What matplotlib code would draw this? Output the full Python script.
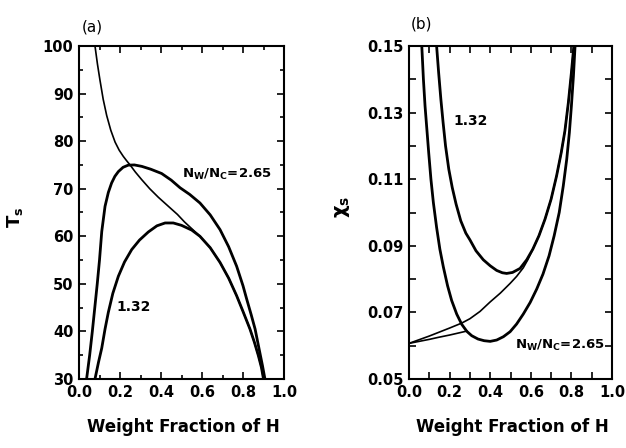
import matplotlib
matplotlib.use("Agg")
from matplotlib import pyplot as plt
from matplotlib.ticker import MultipleLocator, FixedLocator
import numpy as np

# (a) spinodal temperature vs weight fraction of H
A_W_265 = [0.037, 0.052, 0.065, 0.077, 0.089, 0.100, 0.111, 0.127, 0.143, 0.159, 0.175,
           0.192, 0.215, 0.24, 0.27, 0.306, 0.35, 0.403, 0.45, 0.493, 0.54, 0.59, 0.64,
           0.688, 0.73, 0.769, 0.80, 0.818, 0.84, 0.859, 0.88, 0.895, 0.907]
A_T_265 = [30, 35, 40, 45, 50, 55, 61, 66.3, 69.2, 71.2, 72.6,
           73.6, 74.5, 74.95, 75.0, 74.7, 74.1, 73.2, 71.8, 70.2, 68.8, 67.0, 64.5,
           61.4, 57.8, 53.7, 49.6, 46.8, 43.5, 40.5, 36.0, 32.8, 30.0]

A_W_132 = [0.078, 0.095, 0.111, 0.127, 0.143, 0.165, 0.192, 0.222, 0.257, 0.295, 0.338,
           0.38, 0.42, 0.46, 0.50, 0.55, 0.59, 0.64, 0.688, 0.73, 0.769, 0.80, 0.834,
           0.855, 0.875, 0.89, 0.9]
A_T_132 = [30, 33.5, 36.5, 40.5, 44.0, 48.0, 51.6, 54.6, 57.2, 59.2, 60.9,
           62.2, 62.8, 62.8, 62.3, 61.3, 60.0, 57.6, 54.5, 51.2, 47.5, 44.2, 40.5,
           37.8, 34.9, 32.4, 30.0]

A_W_THIN = [0.078, 0.09, 0.102, 0.118, 0.135, 0.155, 0.176, 0.196, 0.216, 0.232,
            0.249, 0.275, 0.306, 0.345, 0.387, 0.436, 0.48, 0.515, 0.55, 0.59, 0.64,
            0.688, 0.73, 0.769, 0.80, 0.834, 0.855, 0.875, 0.89, 0.9]
A_T_THIN = [100, 96.2, 92.9, 88.8, 85.4, 82.3, 79.8, 78.1, 76.8, 75.9,
            75.0, 73.5, 71.9, 70.0, 68.2, 66.3, 64.6, 63.0, 61.6, 60.0, 57.6,
            54.5, 51.2, 47.5, 44.2, 40.5, 37.8, 34.9, 32.4, 30.0]

# (b) spinodal chi vs weight fraction of H
B_W_265 = [0.063, 0.071, 0.079, 0.088, 0.097, 0.108, 0.12, 0.136, 0.152, 0.169, 0.19,
           0.21, 0.235, 0.26, 0.285, 0.309, 0.34, 0.37, 0.40, 0.432, 0.465, 0.498,
           0.53, 0.563, 0.597, 0.629, 0.66, 0.69, 0.715, 0.74, 0.76, 0.777,
           0.79, 0.80, 0.81, 0.818]
B_X_265 = [0.150, 0.140, 0.132, 0.125, 0.118, 0.110, 0.103, 0.0955, 0.089, 0.0837, 0.078,
           0.0736, 0.0695, 0.0664, 0.0643, 0.0630, 0.0620, 0.0615, 0.0613, 0.0617, 0.0627, 0.0642,
           0.0665, 0.0695, 0.073, 0.077, 0.0815, 0.087, 0.093, 0.100, 0.108, 0.116,
           0.124, 0.132, 0.141, 0.150]

B_W_132 = [0.136, 0.146, 0.157, 0.168, 0.18, 0.196, 0.213, 0.232, 0.255, 0.28, 0.30,
           0.33, 0.366, 0.40, 0.432, 0.46, 0.481, 0.51, 0.547, 0.58, 0.61, 0.64, 0.67,
           0.70, 0.727, 0.75, 0.768, 0.785, 0.80, 0.812]
B_X_132 = [0.150, 0.142, 0.134, 0.127, 0.120, 0.113, 0.1075, 0.1025, 0.0975, 0.0938, 0.0918,
           0.0885, 0.0858, 0.084, 0.0826, 0.0819, 0.0817, 0.082, 0.0832, 0.0858, 0.089, 0.093, 0.098,
           0.104, 0.111, 0.118, 0.1245, 0.133, 0.142, 0.150]

B_W_THIN = [0.0, 0.05, 0.10, 0.15, 0.20, 0.26, 0.30, 0.35, 0.399, 0.45, 0.498, 0.53,
            0.563, 0.585, 0.61, 0.64, 0.67, 0.70, 0.727, 0.75, 0.768, 0.785, 0.80, 0.812]
B_X_THIN = [0.0607, 0.0618, 0.0629, 0.0641, 0.0653, 0.0668, 0.0681, 0.0703, 0.0731, 0.0758,
            0.0787, 0.0808, 0.0834, 0.0858, 0.089, 0.093, 0.098, 0.104, 0.111, 0.118, 0.1245,
            0.133, 0.142, 0.150]

B_W_LOW = [0.0, 0.05, 0.10, 0.144, 0.20, 0.25, 0.285]
B_X_LOW = [0.0607, 0.0613, 0.0619, 0.0625, 0.0632, 0.0639, 0.0644]

HEAVY = 2.0
THIN = 1.2

plt.rcParams["font.family"] = "DejaVu Sans"
plt.rcParams["mathtext.fontset"] = "dejavusans"

fig = plt.figure(figsize=(6.26, 4.48), dpi=100)
ax1 = fig.add_axes([79 / 626, 1 - 379 / 448, 205 / 626, 333 / 448])
ax2 = fig.add_axes([409 / 626, 1 - 379 / 448, 203 / 626, 333 / 448])


def style_axes(ax):
    for s in ax.spines.values():
        s.set_linewidth(1.5)
    ax.tick_params(which="both", direction="in", top=True, right=True,
                   width=1.2, labelsize=10.5, pad=4)
    ax.tick_params(which="major", length=5)
    ax.tick_params(which="minor", length=3)
    for lab in ax.get_xticklabels() + ax.get_yticklabels():
        lab.set_fontweight("bold")


ax1.plot(A_W_THIN, A_T_THIN, color="k", lw=THIN)
ax1.plot(A_W_265, A_T_265, color="k", lw=HEAVY)
ax1.plot(A_W_132, A_T_132, color="k", lw=HEAVY)
ax1.set_xlim(0, 1)
ax1.set_ylim(30, 100)
ax1.xaxis.set_major_locator(MultipleLocator(0.2))
ax1.xaxis.set_minor_locator(MultipleLocator(0.1))
ax1.yaxis.set_major_locator(MultipleLocator(10))
ax1.yaxis.set_minor_locator(MultipleLocator(5))
ax1.xaxis.set_major_formatter(lambda v, p: f"{v:.1f}")
style_axes(ax1)
ax1.text(0.50, 73.0, r"N$_{\mathbf{W}}$/N$_{\mathbf{C}}$=2.65", fontsize=9.5,
         fontweight="bold", ha="left", va="center")
ax1.text(0.184, 45.1, "1.32", fontsize=10, fontweight="bold", ha="left", va="center")

ax2.plot(B_W_THIN, B_X_THIN, color="k", lw=THIN)
ax2.plot(B_W_LOW, B_X_LOW, color="k", lw=THIN)
ax2.plot(B_W_265, B_X_265, color="k", lw=HEAVY)
ax2.plot(B_W_132, B_X_132, color="k", lw=HEAVY)
ax2.set_xlim(0, 1)
ax2.set_ylim(0.05, 0.15)
ax2.xaxis.set_major_locator(MultipleLocator(0.2))
ax2.xaxis.set_minor_locator(MultipleLocator(0.1))
ax2.yaxis.set_major_locator(FixedLocator([0.05, 0.07, 0.09, 0.11, 0.13, 0.15]))
ax2.yaxis.set_minor_locator(FixedLocator([0.06, 0.08, 0.10, 0.12, 0.14]))
ax2.xaxis.set_major_formatter(lambda v, p: f"{v:.1f}")
ax2.yaxis.set_major_formatter(lambda v, p: f"{v:.2f}")
style_axes(ax2)
ax2.tick_params(which="minor", length=5)
ax2.text(0.522, 0.060, r"N$_{\mathbf{W}}$/N$_{\mathbf{C}}$=2.65", fontsize=9.5,
         fontweight="bold", ha="left", va="center")
ax2.text(0.217, 0.1276, "1.32", fontsize=10, fontweight="bold", ha="left", va="center")

# axis titles and panel tags
fig.text(15 / 626, 1 - 217 / 448, r"$\mathbf{T_s}$", rotation=90, fontsize=13,
         ha="center", va="center")
fig.text(343 / 626, 1 - 207 / 448, r"$\mathbf{\chi_s}$", rotation=90, fontsize=14,
         ha="center", va="center")
fig.text(183 / 626, 1 - 427 / 448, "Weight Fraction of H", fontsize=12,
         fontweight="bold", ha="center", va="center")
fig.text(512 / 626, 1 - 427 / 448, "Weight Fraction of H", fontsize=12,
         fontweight="bold", ha="center", va="center")
fig.text(92 / 626, 1 - 27 / 448, "(a)", fontsize=11, ha="center", va="center")
fig.text(422 / 626, 1 - 24 / 448, "(b)", fontsize=11, ha="center", va="center")

fig.savefig("out.png", dpi=100)
